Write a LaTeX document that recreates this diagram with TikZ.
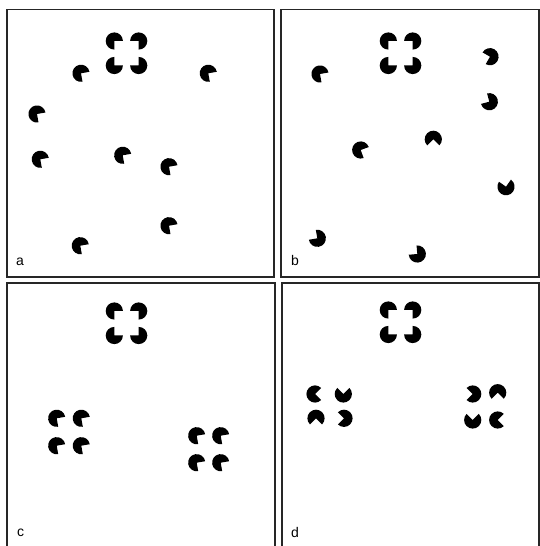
\documentclass[tikz,border=0pt]{standalone}
\usepackage{fontspec}
\setmainfont{Liberation Sans}
\newcommand{\pacm}[4]{%
  \fill ({#1},{546-(#2)}) -- ++(#4:8.6) arc[start angle=#4, end angle={#3+360}, radius=8.6] -- cycle;}
\newcommand{\kaniz}[2]{%
  \pacm{#1}{#2}{-90}{0}
  \pacm{#1+24.4}{#2}{180}{270}
  \pacm{#1}{#2+24.5}{0}{90}
  \pacm{#1+24.4}{#2+24.5}{90}{180}}
\tikzset{panelbox/.style={draw=black!85, line width=1.2pt},
  panellabel/.style={font=\fontsize{14}{16}\selectfont, anchor=center, inner sep=0pt}}
\begin{document}
\begin{tikzpicture}[x=1pt,y=1pt]
\useasboundingbox (0,0) rectangle (540,546);
\clip (0,0) rectangle (540,546);
\fill[white] (0,0) rectangle (540,546);
% panel frames
\draw[panelbox] (7,{546-9.5}) rectangle (274,{546-277});
\draw[panelbox] (281,{546-9.5}) rectangle (539,{546-277});
\draw[panelbox] (7,{546-283}) rectangle (275,-10);
\draw[panelbox] (282,{546-283}) rectangle (539,-10);
% labels
\node[panellabel] (la) at (20,{546-262}) {a};
\node[panellabel] (lb) at (295,{546-261}) {b};
\node[panellabel] (lc) at (20.7,{546-533}) {c};
\node[panellabel] (ld) at (295,{546-532}) {d};
% Kanizsa squares
\kaniz{114.3}{41}
\kaniz{388.3}{41}
\kaniz{114.3}{311}
\kaniz{388.3}{310}
% panel a distractors
\pacm{81}{73.3}{-80}{10}
\pacm{208.3}{73.3}{-80}{10}
\pacm{37}{114}{-80}{10}
\pacm{40.3}{159.3}{-80}{10}
\pacm{122.7}{155.3}{-80}{10}
\pacm{169}{166.7}{-80}{10}
\pacm{169}{225.7}{-80}{10}
\pacm{80.3}{245.7}{-80}{10}
% panel b distractors
\pacm{320}{74}{-80}{10}
\pacm{490}{56.7}{150}{240}
\pacm{489.3}{101.7}{105}{195}
\pacm{433.3}{139.3}{-135}{-45}
\pacm{360.7}{150}{-70}{20}
\pacm{506}{186.7}{55}{145}
\pacm{317.3}{238.3}{100}{190}
\pacm{417.3}{254}{95}{185}
% panel c groups
\pacm{56.7}{418.3}{-80}{10}
\pacm{81.3}{418.3}{-80}{10}
\pacm{56.7}{445.7}{-80}{10}
\pacm{81.3}{445.7}{-80}{10}
\pacm{196.7}{435.7}{-80}{10}
\pacm{220.7}{435.7}{-80}{10}
\pacm{196.7}{462.7}{-80}{10}
\pacm{220.7}{462.7}{-80}{10}
% panel d groups
\pacm{315}{394}{-45}{45}
\pacm{343.3}{394}{45}{135}
\pacm{316}{418.3}{-135}{-45}
\pacm{344}{418.3}{135}{225}
\pacm{472.7}{394}{135}{225}
\pacm{497.7}{392.7}{-135}{-45}
\pacm{472.7}{420}{45}{135}
\pacm{497.7}{420}{-45}{45}
\end{tikzpicture}
\end{document}
